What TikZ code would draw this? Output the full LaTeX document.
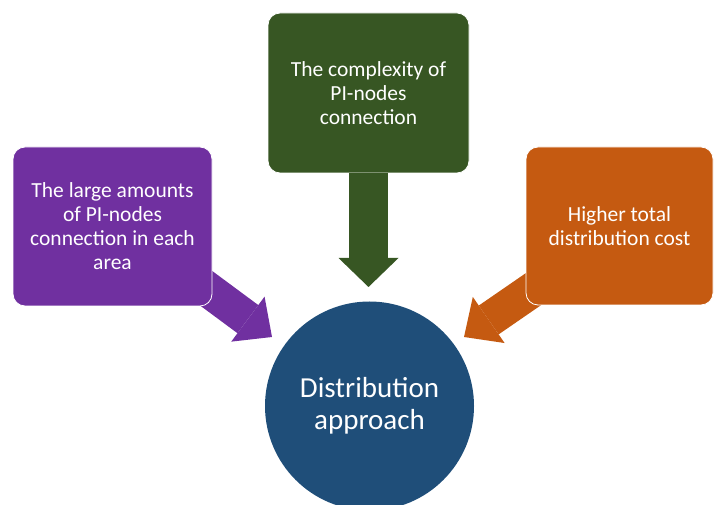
\documentclass[tikz,border=0pt]{standalone}
\usepackage{fontspec}
\setmainfont{Carlito}
\usetikzlibrary{arrows.meta}

\definecolor{BoxPurple}{HTML}{7030A0}
\definecolor{BoxGreen}{HTML}{375623}
\definecolor{BoxOrange}{HTML}{C55A11}
\definecolor{CircleBlue}{HTML}{1F4E79}

\tikzset{BoxStyle/.style = {rectangle, rounded corners = 12pt, draw = white,
                            line width = 0.8pt, text = white, align = center,
                            inner sep = 0pt,
                            font = \fontsize{21.5}{24}\selectfont},
         ArrowStyle/.style = {line width = #1, draw}}

\begin{document}
\begin{tikzpicture}[x=1pt,y=1pt]

\useasboundingbox (0,0) rectangle (714,505);

\coordinate (tl) at (272,168);
\coordinate (tt) at (368.5,218);
\coordinate (tr) at (464,168);

\coordinate (sl) at (195,225);
\coordinate (sr) at (538,219);

% arrows first, the boxes cover their tails
\draw[ArrowStyle=35pt, BoxPurple, -{Triangle[length=30pt,width=56pt,line width=0pt]}] (sl) -- (tl);
\draw[ArrowStyle=35pt, BoxOrange, -{Triangle[length=30pt,width=56pt,line width=0pt]}] (sr) -- (tr);

\node[BoxStyle, fill = BoxPurple, minimum width = 199pt, minimum height = 159pt]
  (left) at (112.5,278.5) {The large amounts\\of PI-nodes\\connection in each\\area};
\node[BoxStyle, fill = BoxGreen, minimum width = 201pt, minimum height = 160pt]
  (top) at (368.5,412) {The complexity of\\PI-nodes\\connection};
\node[BoxStyle, fill = BoxOrange, minimum width = 187pt, minimum height = 158pt]
  (right) at (619.5,279) {Higher total\\distribution cost};

\draw[ArrowStyle=39pt, BoxGreen, -{Triangle[length=29pt,width=60pt,line width=0pt]}] (top.south) -- (tt);

\node[circle, fill = CircleBlue, minimum size = 209pt, text = white, align = center,
      font = \fontsize{29}{32}\selectfont] (dist) at (369.5,99) {Distribution\\approach};

\end{tikzpicture}
\end{document}
